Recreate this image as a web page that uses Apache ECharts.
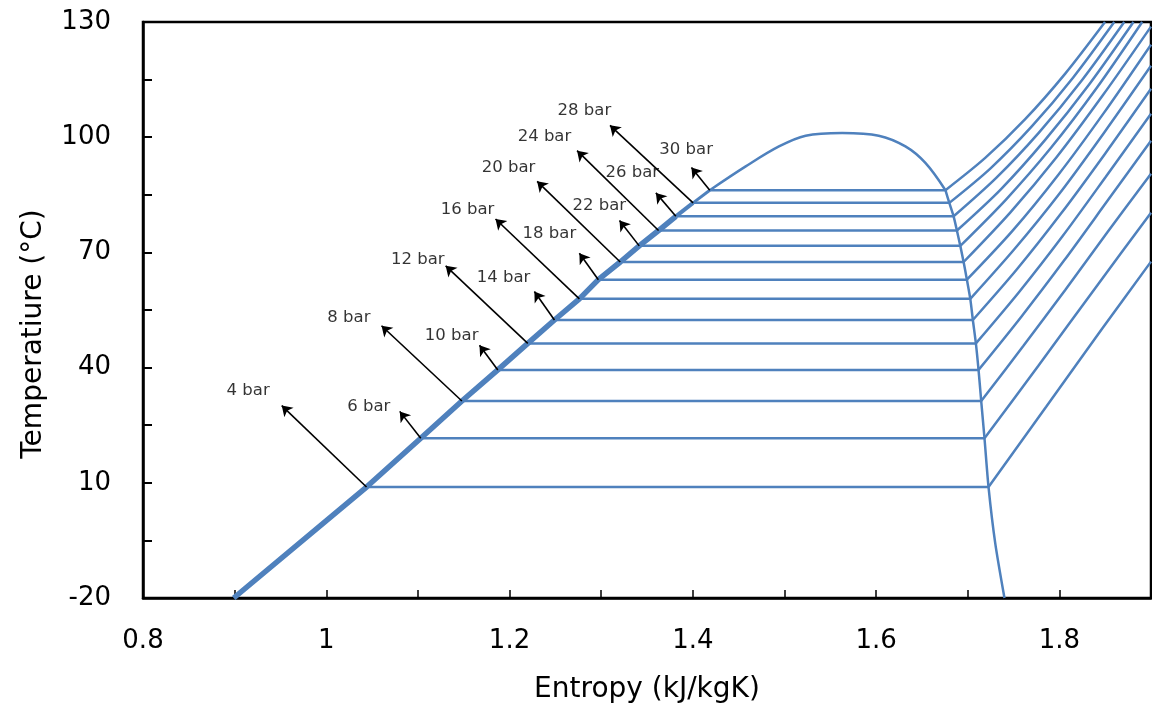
<!DOCTYPE html>
<html><head><meta charset="utf-8">
<script src="https://cdn.jsdelivr.net/npm/echarts@6/dist/echarts.min.js"></script>
<style>html,body{margin:0;padding:0;background:#fff}#c{width:1152px;height:716px}</style>
</head><body><div id="c"></div>
<script>
// ---- data ----
const pressures = [4, 6, 8, 10, 12, 14, 16, 18, 20, 22, 24, 26, 28, 30];          // bar
const tSat = [8.9, 21.6, 31.3, 39.4, 46.3, 52.4, 57.9, 62.9, 67.5, 71.7, 75.7, 79.4, 82.9, 86.2]; // °C
const sLiq = [1.0439, 1.1031, 1.148, 1.1872, 1.2199, 1.249, 1.2762, 1.2969, 1.3208, 1.3415, 1.3626, 1.3815, 1.4003, 1.4185];
const sVap = [1.7227, 1.7183, 1.7147, 1.7118, 1.7089, 1.7056, 1.7028, 1.6991, 1.6955, 1.6919, 1.6882, 1.6846, 1.6799, 1.6757];
const liqBottom = [0.899, -20];
const vapLow = [[1.730, -5.7], [1.7401, -20]];
const dome = [[1.4185, 86.2], [1.4577, 92.4], [1.494, 97.6], [1.5231, 100.4], [1.5629, 101.1], [1.6029, 100.4], [1.632, 97.6], [1.6538, 93.3], [1.6757, 86.2]];

const sh04 = [[1.7227, 8.9], [1.7856, 29.8], [1.8466, 50.1], [1.9, 67.6]];
const sh06 = [[1.7183, 21.6], [1.7771, 40.5], [1.8425, 61.8], [1.9, 80.3]];
const sh08 = [[1.7147, 31.3], [1.7606, 45.6], [1.8064, 60.2], [1.8522, 75.2], [1.9, 90.5]];
const sh10 = [[1.7118, 39.4], [1.7583, 53.2], [1.8049, 67.8], [1.8515, 83.1], [1.9, 99.1]];
const sh12 = [[1.7089, 46.3], [1.7561, 59.7], [1.8034, 74.2], [1.8507, 89.7], [1.9, 106.1]];
const sh14 = [[1.7056, 52.4], [1.7537, 65.6], [1.8018, 80.1], [1.8499, 95.7], [1.9, 112.6]];
const sh16 = [[1.7028, 57.9], [1.7515, 71.0], [1.8004, 85.4], [1.8492, 101.3], [1.9, 118.6]];
const sh18 = [[1.6991, 62.9], [1.7488, 75.6], [1.7985, 90.1], [1.8482, 106.2], [1.9, 124.1]];
const sh20 = [[1.6955, 67.5], [1.7461, 80.3], [1.7967, 94.7], [1.8474, 110.9], [1.9, 128.8]];
const sh22 = [[1.6919, 71.7], [1.7415, 83.7], [1.7911, 97.3], [1.8407, 112.8], [1.8904, 130]];
const sh24 = [[1.6882, 75.7], [1.7364, 86.5], [1.7845, 99.3], [1.8327, 113.8], [1.8809, 130]];
const sh26 = [[1.6846, 79.4], [1.7311, 89.4], [1.7777, 101.2], [1.8242, 114.7], [1.8708, 130]];
const sh28 = [[1.6799, 82.9], [1.7249, 91.9], [1.7699, 102.8], [1.8149, 115.5], [1.8599, 130]];
const sh30 = [[1.6757, 86.2], [1.7191, 94.6], [1.7627, 104.7], [1.8062, 116.5], [1.8498, 130]];
const superheated = [sh04, sh06, sh08, sh10, sh12, sh14, sh16, sh18, sh20, sh22, sh24, sh26, sh28, sh30];

// arrow heads and label anchors (data coordinates)
const arrowS = [0.9514, 1.0802, 1.0603, 1.1672, 1.1303, 1.2271, 1.1847, 1.2762, 1.2301, 1.3200, 1.2737, 1.3597, 1.3096, 1.3985];
const arrowT = [30.1, 28.6, 50.9, 45.8, 66.5, 59.8, 78.7, 69.8, 88.5, 78.3, 96.5, 85.5, 103.1, 92.1];
const labelS = [0.9147, 1.0464, 1.0247, 1.1368, 1.0998, 1.1934, 1.1542, 1.2435, 1.1989, 1.2980, 1.2381, 1.3340, 1.2817, 1.3927];
const labelT = [34.0, 29.8, 53.0, 48.3, 68.1, 63.4, 81.1, 74.9, 92.1, 82.2, 100.1, 90.8, 106.9, 96.7];

const xTicks = [0.8, 0.9, 1.0, 1.1, 1.2, 1.3, 1.4, 1.5, 1.6, 1.7, 1.8, 1.9];
const xLabels = [0.8, 1, 1.2, 1.4, 1.6, 1.8];
const yTicks = [-20, -5, 10, 25, 40, 55, 70, 85, 100, 115, 130];
const yLabels = [-20, 10, 40, 70, 100, 130];

// ---- chart ----
const BLUE = '#4F81BD';
const FONT = 'DejaVu Sans';
const series = [];

function liqSeg(i0, i1, w) {
  const d = [];
  if (i0 < 0) { d.push(liqBottom); i0 = 0; }
  for (let i = i0; i <= i1; i++) d.push([sLiq[i], tSat[i]]);
  series.push({ type: 'line', data: d, symbol: 'none', lineStyle: { color: BLUE, width: w }, z: 3 });
}
liqSeg(-1, 11, 5.5);
liqSeg(11, 12, 4);
liqSeg(12, 13, 3);

series.push({ type: 'line', data: dome, smooth: 0.35, symbol: 'none', lineStyle: { color: BLUE, width: 2.5 }, z: 2 });

const vapLine = [];
for (let i = pressures.length - 1; i >= 0; i--) vapLine.push([sVap[i], tSat[i]]);
vapLow.forEach(p => vapLine.push(p));
series.push({ type: 'line', data: vapLine, smooth: 0.25, symbol: 'none', lineStyle: { color: BLUE, width: 2.5 }, z: 2 });

const flat = [];
pressures.forEach((p, i) => { flat.push([sLiq[i], tSat[i]]); flat.push([sVap[i], tSat[i]]); flat.push([null, null]); });
series.push({ type: 'line', data: flat, connectNulls: false, symbol: 'none', lineStyle: { color: BLUE, width: 2.5 }, z: 2 });

superheated.forEach(d => series.push({ type: 'line', data: d, smooth: 0.3, symbol: 'none', lineStyle: { color: BLUE, width: 2.5 }, z: 2 }));

series.push({
  type: 'lines', coordinateSystem: 'cartesian2d', z: 5,
  symbol: ['none', 'arrow'], symbolSize: 10,
  lineStyle: { color: '#000', width: 1.6, opacity: 1 },
  data: pressures.map((p, i) => ({ coords: [[sLiq[i], tSat[i]], [arrowS[i], arrowT[i]]] }))
});

series.push({
  type: 'scatter', z: 6, symbolSize: 1, itemStyle: { color: 'rgba(0,0,0,0)' }, silent: true,
  label: { show: true, position: 'inside', color: '#000', fontFamily: FONT, fontSize: 16.5,
           formatter: p => p.data[2] + ' bar' },
  data: pressures.map((p, i) => [labelS[i], labelT[i], p])
});

const chart = echarts.init(document.getElementById('c'));
chart.setOption({
  animation: false,
  backgroundColor: '#fff',
  grid: { left: 143, right: 1, top: 22, bottom: 118, show: true, borderColor: '#000', borderWidth: 2.5, backgroundColor: 'transparent' },
  xAxis: {
    type: 'value', min: 0.8, max: 1.9,
    name: 'Entropy (kJ/kgK)', nameLocation: 'middle', nameGap: 78,
    nameTextStyle: { fontFamily: FONT, fontSize: 28, color: '#000' },
    axisLine: { show: true, onZero: false, lineStyle: { color: '#000', width: 2.5 } },
    axisTick: { show: true, inside: true, length: 8, customValues: xTicks, lineStyle: { color: '#000', width: 1.5 } },
    axisLabel: { customValues: xLabels, formatter: v => String(v), fontFamily: FONT, fontSize: 26, color: '#000', margin: 30 },
    splitLine: { show: false }
  },
  yAxis: {
    type: 'value', min: -20, max: 130,
    name: 'Temperatiure (°C)', nameLocation: 'middle', nameGap: 95, nameRotate: 90,
    nameTextStyle: { fontFamily: FONT, fontSize: 28, color: '#000', padding: [0, 48, 0, 0] },
    axisLine: { show: true, onZero: false, lineStyle: { color: '#000', width: 2.5 } },
    axisTick: { show: true, inside: true, length: 9, customValues: yTicks, lineStyle: { color: '#000', width: 2 } },
    axisLabel: { customValues: yLabels, fontFamily: FONT, fontSize: 26, color: '#000', margin: 32 },
    splitLine: { show: false }
  },
  series: series
});
</script>
</body></html>
